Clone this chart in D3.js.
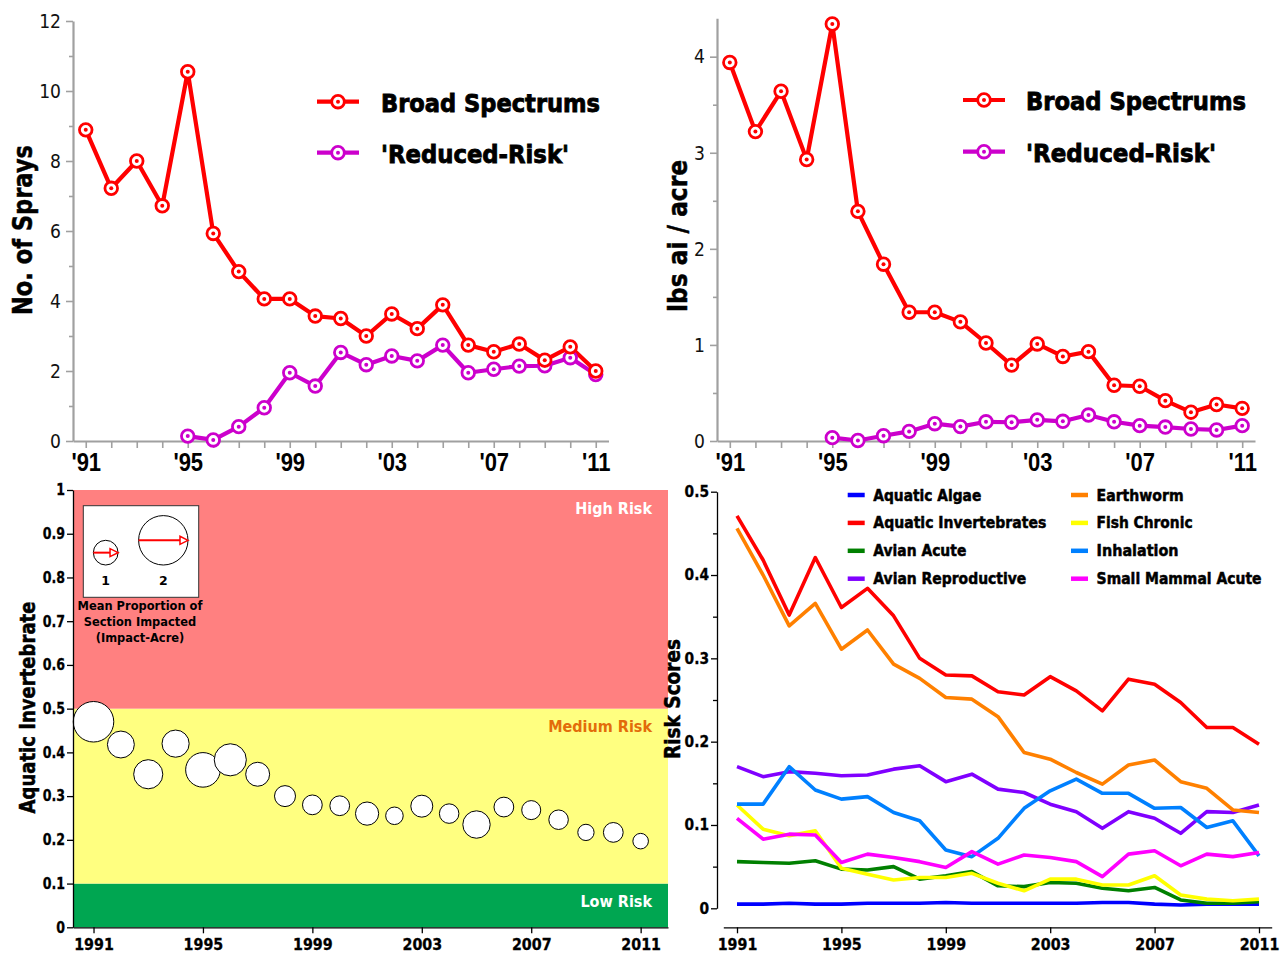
<!DOCTYPE html>
<html><head><meta charset="utf-8">
<script src="https://cdn.jsdelivr.net/npm/d3@7"></script>
<style>body{margin:0;background:#fff} svg{display:block}</style>
</head><body>
<svg id="c" width="1282" height="953"></svg>
<script>
// ---------------- DATA ----------------
const years = [1991,1992,1993,1994,1995,1996,1997,1998,1999,2000,2001,2002,2003,2004,2005,2006,2007,2008,2009,2010,2011];
const yearsReduced = [1995,1996,1997,1998,1999,2000,2001,2002,2003,2004,2005,2006,2007,2008,2009,2010,2011];

const topSeriesNames = ["Broad Spectrums", "'Reduced-Risk'"];
const spraysBroad   = [8.89,7.22,8.0,6.72,10.55,5.93,4.84,4.06,4.06,3.57,3.5,3.0,3.63,3.21,3.89,2.74,2.55,2.77,2.31,2.69,2.0];
const spraysReduced = [0.14,0.03,0.41,0.95,1.95,1.57,2.53,2.18,2.43,2.29,2.74,1.95,2.05,2.14,2.15,2.38,1.9];
const lbsBroad      = [3.94,3.22,3.64,2.93,4.34,2.39,1.84,1.34,1.34,1.24,1.02,0.79,1.01,0.88,0.93,0.58,0.57,0.42,0.30,0.38,0.34];
const lbsReduced    = [0.035,0.005,0.055,0.10,0.18,0.15,0.20,0.195,0.22,0.205,0.27,0.20,0.16,0.145,0.125,0.115,0.16];

const topTickYears  = [1991,1995,1999,2003,2007,2011];
const topTickLabels = ["'91","'95","'99","'03","'07","'11"];
const spraysMajorTicks = [0,2,4,6,8,10,12];
const spraysMinorTicks = [1,3,5,7,9,11];
const lbsMajorTicks = [0,1,2,3,4];
const lbsMinorTicks = [0.5,1.5,2.5,3.5];

// bubble chart
const aquaticInvertScore = [0.47,0.418,0.35,0.42,0.36,0.383,0.35,0.30,0.28,0.278,0.26,0.255,0.277,0.26,0.235,0.275,0.268,0.246,0.217,0.217,0.197];
const impactAcre         = [1.64,1.09,1.18,1.1,1.4,1.3,0.97,0.85,0.8,0.8,0.94,0.71,0.89,0.79,1.11,0.8,0.77,0.79,0.66,0.8,0.63];
const bubbleLegendValues = [1, 2];
const riskBandLimits = [0, 0.1, 0.5, 1];
const riskBandLabels = ["Low Risk", "Medium Risk", "High Risk"];
const bottomTickYears = [1991,1995,1999,2003,2007,2011];
const bubbleYTicks = [0,0.1,0.2,0.3,0.4,0.5,0.6,0.7,0.8,0.9,1];

// risk scores
const riskNames = ["Aquatic Algae","Aquatic Invertebrates","Avian Acute","Avian Reproductive","Earthworm","Fish Chronic","Inhalation","Small Mammal Acute"];
const aquaticAlgae   = [0.005,0.005,0.006,0.005,0.005,0.006,0.006,0.006,0.007,0.006,0.006,0.006,0.006,0.006,0.007,0.007,0.005,0.004,0.005,0.005,0.005];
const aquaticInvert  = [0.471,0.418,0.352,0.421,0.361,0.384,0.351,0.300,0.280,0.279,0.260,0.256,0.278,0.261,0.237,0.275,0.269,0.247,0.217,0.217,0.197];
const avianAcute     = [0.056,0.055,0.054,0.057,0.047,0.046,0.050,0.035,0.039,0.044,0.027,0.026,0.031,0.030,0.024,0.021,0.025,0.010,0.006,0.006,0.008];
const avianRepro     = [0.170,0.158,0.164,0.162,0.159,0.160,0.167,0.171,0.152,0.161,0.143,0.139,0.125,0.116,0.096,0.116,0.108,0.090,0.116,0.115,0.124];
const earthworm      = [0.456,0.400,0.339,0.366,0.311,0.334,0.293,0.276,0.253,0.251,0.230,0.187,0.179,0.163,0.149,0.172,0.178,0.152,0.144,0.118,0.115];
const fishChronic    = [0.124,0.095,0.087,0.093,0.048,0.041,0.034,0.037,0.037,0.042,0.030,0.021,0.035,0.035,0.028,0.028,0.039,0.016,0.011,0.009,0.011];
const inhalation     = [0.125,0.125,0.170,0.142,0.131,0.134,0.115,0.105,0.070,0.062,0.084,0.120,0.141,0.155,0.138,0.138,0.120,0.121,0.097,0.105,0.063];
const smallMammal    = [0.108,0.083,0.089,0.088,0.055,0.065,0.061,0.056,0.049,0.068,0.053,0.064,0.061,0.056,0.038,0.065,0.069,0.051,0.065,0.062,0.067];
const riskSeries = [aquaticAlgae, aquaticInvert, avianAcute, avianRepro, earthworm, fishChronic, inhalation, smallMammal];
const riskMajorTicks = [0,0.1,0.2,0.3,0.4,0.5];
const riskMinorTicks = [0.05,0.15,0.25,0.35,0.45];

// ---------------- DRAWING ----------------
const svg = d3.select("#c");
const FONT = "'DejaVu Sans', Verdana, sans-serif";
const ARIAL = "'Liberation Sans', Arial, sans-serif";

function squeeze(sel, f){
  sel.each(function(){
    const w = this.getComputedTextLength();
    this.setAttribute("textLength", w*f);
    this.setAttribute("lengthAdjust","spacingAndGlyphs");
  });
}
function fitTo(sel, w){ sel.attr("textLength", w).attr("lengthAdjust","spacingAndGlyphs"); }
function heavy(sel, w){ sel.attr("stroke","#000").attr("stroke-width",w).attr("paint-order","stroke"); }

const topColors = ["#FF0000", "#CC00CC"];

function marker(g, cx, cy, color){
  g.append("circle").attr("cx",cx).attr("cy",cy).attr("r",6.3)
    .attr("fill","#fff").attr("stroke",color).attr("stroke-width",2.8);
  g.append("circle").attr("cx",cx).attr("cy",cy).attr("r",2).attr("fill",color);
}

function drawTop(p){
  const g = svg.append("g");
  const x = d3.scaleLinear().domain([1990.5, 2011.5]).range([p.left, p.right]);
  const y = d3.scaleLinear().domain([0, p.ymax]).range([441, p.top]);
  const grey = "#A0A0A0";

  const ya = g.append("g").attr("transform",`translate(${p.left},0)`)
    .call(d3.axisLeft(y).tickValues(p.major).tickSize(7).tickSizeOuter(0).tickPadding(5).tickFormat(d3.format("d")));
  const ym = g.append("g").attr("transform",`translate(${p.left},0)`)
    .call(d3.axisLeft(y).tickValues(p.minor).tickSize(4).tickFormat(""));
  ym.select(".domain").remove();
  const xa = g.append("g").attr("transform",`translate(0,441)`)
    .call(d3.axisBottom(x).tickValues(years).tickSize(7).tickSizeOuter(0).tickPadding(5)
      .tickFormat(d => { const i = topTickYears.indexOf(d); return i >= 0 ? topTickLabels[i] : ""; }));
  [ya, ym, xa].forEach(a => {
    a.selectAll("path,line").attr("stroke",grey).attr("stroke-width",1.6);
    a.select(".domain").attr("stroke-width",2.2);
  });
  ya.selectAll("text").attr("font-family",FONT).attr("font-size",19.5).attr("fill","#111").call(squeeze,0.88);
  xa.selectAll("text").attr("font-family",ARIAL).attr("font-weight","bold").attr("font-size",25).attr("fill","#000").call(squeeze,0.88);

  // y title
  g.append("text").attr("transform",`translate(${p.titleX},${p.titleY}) rotate(-90)`)
    .attr("text-anchor","middle").attr("font-family",FONT).attr("font-weight","bold")
    .attr("font-size",26).text(p.title).call(fitTo,p.titleW).call(heavy,0.5);

  const line = d3.line().x(d=>x(d[0])).y(d=>y(d[1]));
  const sets = [years.map((yr,i)=>[yr,p.broad[i]]), yearsReduced.map((yr,i)=>[yr,p.reduced[i]])];
  [1,0].forEach(k => {
    g.append("path").datum(sets[k]).attr("d",line).attr("fill","none")
      .attr("stroke",topColors[k]).attr("stroke-width",4.2).attr("stroke-linejoin","round");
  });
  [1,0].forEach(k => {
    sets[k].forEach(d => marker(g, x(d[0]), y(d[1]), topColors[k]));
  });

  // legend
  topSeriesNames.forEach((name,k) => {
    const ly = p.legY[k];
    g.append("line").attr("x1",p.legX).attr("x2",p.legX+42).attr("y1",ly).attr("y2",ly)
      .attr("stroke",topColors[k]).attr("stroke-width",4.2);
    marker(g, p.legX+21, ly, topColors[k]);
    g.append("text").attr("x",p.legTextX).attr("y",ly+10).attr("font-family",FONT)
      .attr("font-weight","bold").attr("font-size",25.5).text(name).call(fitTo, p.legW[k]).call(heavy,0.9);
  });
}

drawTop({left:73, right:608.5, top:21, ymax:12, major:spraysMajorTicks, minor:spraysMinorTicks,
  broad:spraysBroad, reduced:spraysReduced, title:"No. of Sprays", titleX:32, titleY:230, titleW:170,
  legX:317, legY:[101.7,152.7], legTextX:381, legW:[219,188]});
drawTop({left:717, right:1255, top:441-4.4*96.08, ymax:4.4, major:lbsMajorTicks, minor:lbsMinorTicks,
  broad:lbsBroad, reduced:lbsReduced, title:"lbs ai / acre", titleX:687, titleY:236, titleW:152,
  legX:963, legY:[100,151.7], legTextX:1026, legW:[220,190]});

// ---------- Bottom-left bubble chart ----------
(function(){
  const g = svg.append("g");
  const x = d3.scaleLinear().domain([1990.25, 2012]).range([73, 668]);
  const y = d3.scaleLinear().domain([0,1]).range([927.3, 490]);
  const r = d3.scaleLinear().domain([0,2]).range([0,24.7]);
  const bandColors = ["#00A651","#FFFF80","#FF8080"];
  const labelColors = ["#FFFFFF","#E36C0A","#FFFFFF"];
  for(let i=0;i<3;i++){
    g.append("rect").attr("x",73).attr("width",595).attr("y",y(riskBandLimits[i+1]))
      .attr("height",y(riskBandLimits[i])-y(riskBandLimits[i+1])).attr("fill",bandColors[i]);
    g.append("text").attr("x",652).attr("y",y(riskBandLimits[i+1])+23.5).attr("text-anchor","end")
      .attr("font-family",FONT).attr("font-weight","bold").attr("font-size",16)
      .attr("fill",labelColors[i]).text(riskBandLabels[i]).call(squeeze,0.9);
  }
  // bubbles
  years.forEach((yr,i) => {
    g.append("circle").attr("cx",x(yr)).attr("cy",y(aquaticInvertScore[i])).attr("r",r(impactAcre[i]))
      .attr("fill","#fff").attr("stroke","#000").attr("stroke-width",1);
  });
  // axes
  const ya = g.append("g").attr("transform","translate(73,0)")
    .call(d3.axisLeft(y).tickValues(bubbleYTicks).tickSize(6).tickSizeOuter(0).tickPadding(2)
      .tickFormat(d => String(+d.toFixed(1))));
  const xa = g.append("g").attr("transform","translate(0,927.3)")
    .call(d3.axisBottom(x).tickValues(bottomTickYears).tickSize(6).tickSizeOuter(0).tickPadding(6).tickFormat(d3.format("d")));
  [ya,xa].forEach(a => { a.selectAll("path,line").attr("stroke","#000").attr("stroke-width",1.3);
    a.selectAll("text").attr("font-family",FONT).attr("font-weight","bold").attr("font-size",15).attr("fill","#000").call(heavy,0.3); });
  ya.selectAll("text").call(squeeze,0.84);
  xa.selectAll("text").call(squeeze,0.95);
  g.append("text").attr("transform","translate(35,707.5) rotate(-90)").attr("text-anchor","middle")
    .attr("font-family",FONT).attr("font-weight","bold").attr("font-size",21)
    .text("Aquatic Invertebrate").call(fitTo,212).call(heavy,0.5);

  // bubble size legend
  g.append("rect").attr("x",83.3).attr("y",505.7).attr("width",115.4).attr("height",91.6)
    .attr("fill","#fff").attr("stroke","#333").attr("stroke-width",1);
  const lcx = [105.7, 163.3];
  bubbleLegendValues.forEach((v,k) => {
    const rr = r(v), cx = lcx[k], cy = 565 - rr;
    g.append("circle").attr("cx",cx).attr("cy",cy).attr("r",rr).attr("fill","#fff").attr("stroke","#000").attr("stroke-width",1);
    g.append("line").attr("x1",cx-rr).attr("x2",cx+rr-8).attr("y1",cy).attr("y2",cy).attr("stroke","#FF0000").attr("stroke-width",2);
    g.append("path").attr("d",`M${cx+rr},${cy}L${cx+rr-8},${cy-4}L${cx+rr-8},${cy+4}Z`)
      .attr("fill","#fff").attr("stroke","#FF0000").attr("stroke-width",1.5);
    g.append("text").attr("x",cx).attr("y",585).attr("text-anchor","middle").attr("font-family",FONT)
      .attr("font-weight","bold").attr("font-size",12.5).text(String(v));
  });
  ["Mean Proportion of","Section Impacted","(Impact-Acre)"].forEach((t,k) => {
    g.append("text").attr("x",140).attr("y",609.5+k*16).attr("text-anchor","middle").attr("font-family",FONT)
      .attr("font-weight","bold").attr("font-size",13).text(t).call(squeeze,0.88);
  });
})();

// ---------- Bottom-right risk score lines ----------
(function(){
  const g = svg.append("g");
  const x = d3.scaleLinear().domain([1990.475, 2011.487]).range([723.3, 1271.7]);
  const y = d3.scaleLinear().domain([0,0.5]).range([908.3, 491.7]);
  const colors = ["#0000FF","#FF0000","#008000","#8000FF","#FF8000","#FFFF00","#0080FF","#FF00FF"];
  const ya = g.append("g").attr("transform","translate(717,0)")
    .call(d3.axisLeft(y).tickValues(riskMajorTicks).tickSize(6).tickSizeOuter(0).tickPadding(2)
      .tickFormat(d => String(+d.toFixed(1))));
  const ym = g.append("g").attr("transform","translate(717,0)")
    .call(d3.axisLeft(y).tickValues(riskMinorTicks).tickSize(4).tickFormat(""));
  ym.select(".domain").remove();
  const xa = g.append("g").attr("transform","translate(0,927.3)")
    .call(d3.axisBottom(x).tickValues(bottomTickYears).tickSize(6).tickSizeOuter(0).tickPadding(6).tickFormat(d3.format("d")));
  [ya,ym,xa].forEach(a => { a.selectAll("path,line").attr("stroke","#000").attr("stroke-width",1.3);
    a.selectAll("text").attr("font-family",FONT).attr("font-weight","bold").attr("font-size",15).attr("fill","#000").call(heavy,0.3); });
  ya.selectAll("text").call(squeeze,0.92);
  xa.selectAll("text").call(squeeze,0.95);
  g.append("text").attr("transform","translate(680,699) rotate(-90)").attr("text-anchor","middle")
    .attr("font-family",FONT).attr("font-weight","bold").attr("font-size",22)
    .text("Risk Scores").call(fitTo,120).call(heavy,0.5);

  const line = d3.line().x((d,i)=>x(years[i])).y(d=>y(d));
  riskSeries.forEach((s,k) => {
    g.append("path").datum(s).attr("d",line).attr("fill","none").attr("stroke",colors[k])
      .attr("stroke-width",3.6).attr("stroke-linejoin","round");
  });
  const legW = [108,173,93,153,87,96,82,165];
  riskNames.forEach((n,k) => {
    const col = Math.floor(k/4), row = k%4;
    const sx = col ? 1071 : 847.7, sy = 495 + row*27.9;
    g.append("line").attr("x1",sx).attr("x2",sx+17).attr("y1",sy).attr("y2",sy).attr("stroke",colors[k]).attr("stroke-width",4.5);
    g.append("text").attr("x",sx+25.6).attr("y",sy+5.5).attr("font-family",FONT).attr("font-weight","bold")
      .attr("font-size",15).text(n).call(fitTo,legW[k]).call(heavy,0.5);
  });
})();
</script>
</body></html>
